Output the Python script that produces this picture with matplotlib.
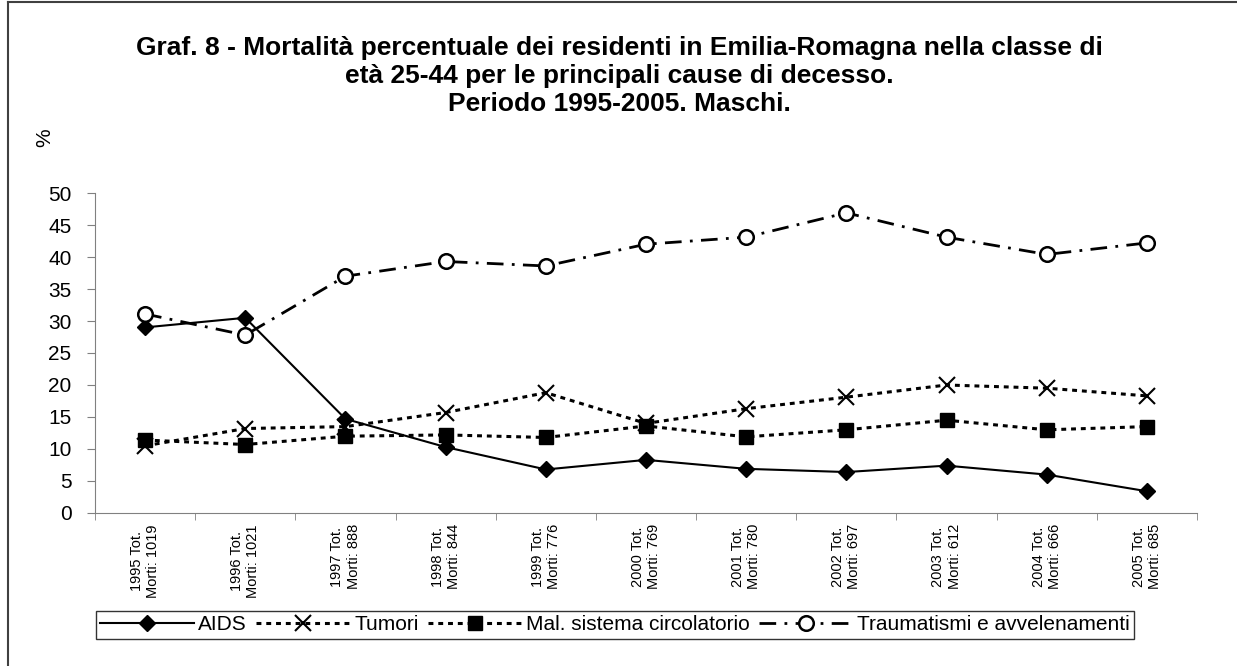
import matplotlib.pyplot as plt
from matplotlib.lines import Line2D
import numpy as np

plt.rcParams['font.family'] = ['Liberation Sans', 'DejaVu Sans']

years = ['1995', '1996', '1997', '1998', '1999', '2000', '2001', '2002', '2003', '2004', '2005']
tot_morti = [1019, 1021, 888, 844, 776, 769, 780, 697, 612, 666, 685]

aids = [29.0, 30.5, 14.7, 10.3, 6.8, 8.3, 6.9, 6.4, 7.4, 6.0, 3.4]
tumori = [10.5, 13.2, 13.5, 15.7, 18.8, 14.0, 16.3, 18.1, 20.0, 19.5, 18.3]
circolatorio = [11.4, 10.7, 12.0, 12.2, 11.8, 13.6, 11.9, 13.0, 14.5, 13.0, 13.5]
traumatismi = [31.1, 27.8, 37.0, 39.3, 38.6, 42.0, 43.1, 46.9, 43.1, 40.4, 42.2]

labels = [f'{y} Tot.\nMorti: {m}' for y, m in zip(years, tot_morti)]

fig = plt.figure(figsize=(12.37, 6.66), dpi=100)
ax = fig.add_axes([95 / 1237, 1 - 513 / 666, (1197 - 95) / 1237, (513 - 193) / 666])

x = np.arange(len(years))
ax.plot(x, aids, color='black', lw=1.5, marker='D', ms=8, label='AIDS')
ax.plot(x, tumori, color='black', lw=2.2, dashes=(1.6, 1.6), marker='x', ms=11, mew=1.5,
        label='Tumori')
ax.plot(x, circolatorio, color='black', lw=2.2, dashes=(1.6, 1.6), marker='s', ms=10,
        label='Mal. sistema circolatorio')
ax.plot(x, traumatismi, color='black', lw=2, dashes=(6, 3, 1, 3), marker='o', ms=10.5,
        mfc='white', mew=1.8, label='Traumatismi e avvelenamenti')

ax.set_xlim(-0.5, len(years) - 0.5)
ax.set_ylim(0, 50)
ax.set_yticks(range(0, 51, 5))
ax.tick_params(axis='y', labelsize=15, length=6, color='#808080', pad=11)
ax.set_xticks(x)
ax.set_xticklabels(labels, rotation=90, fontsize=10.5, ha='center', va='top',
                   multialignment='center')
ax.set_xticks(np.arange(-0.5, len(years), 1), minor=True)
ax.tick_params(axis='x', which='major', length=0, pad=8)
ax.tick_params(axis='x', which='minor', length=5, color='#808080')

for s in ['top', 'right']:
    ax.spines[s].set_visible(False)
for s in ['left', 'bottom']:
    ax.spines[s].set_color('#808080')

fig.text(0.501, 1 - 76 / 666,
         'Graf. 8 - Mortalità percentuale dei residenti in Emilia-Romagna nella classe di\n'
         'età 25-44 per le principali cause di decesso.\nPeriodo 1995-2005. Maschi.',
         ha='center', va='center', fontsize=19, fontweight='bold', linespacing=1.2)
fig.text(45 / 1237, 1 - 138 / 666, '%', rotation=90, fontsize=15, ha='center', va='center')

leg = fig.legend(loc='center left', bbox_to_anchor=(96 / 1237, 1 - 625 / 666), ncol=4,
                 fontsize=15, handlelength=4.5, handletextpad=0.2, columnspacing=0.45,
                 frameon=True, fancybox=False, edgecolor='black', borderpad=0.2,
                 borderaxespad=0)
leg.get_frame().set_linewidth(1)

# frame of the chart area
fig.add_artist(Line2D([8 / 1237, 8 / 1237], [0, 1 - 2 / 666], color='#404040', lw=1.5))
fig.add_artist(Line2D([8 / 1237, 1], [1 - 2 / 666, 1 - 2 / 666], color='#404040', lw=1.5))

fig.savefig('out.png', dpi=100)
